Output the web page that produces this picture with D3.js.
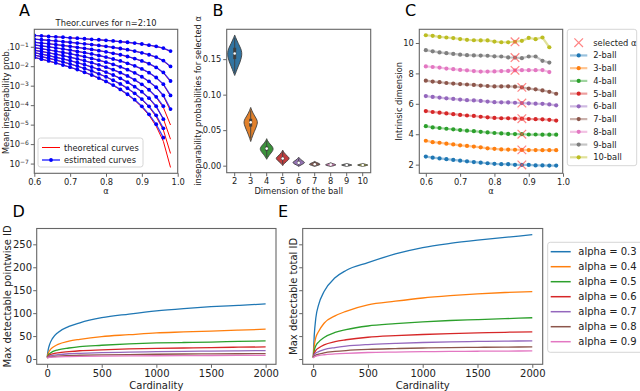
<!DOCTYPE html>
<html>
<head>
<meta charset="utf-8">
<script src="https://cdn.jsdelivr.net/npm/d3@7"></script>
<style>
  body { margin: 0; background: #fff; }
  svg { display: block; font-family: "DejaVu Sans", sans-serif; }
</style>
</head>
<body>
<svg id="fig" width="640" height="391"></svg>
<script>
// ---------- data ----------
// panel A: log10 of mean inseparability probability, alpha = 0.60 .. 0.98 step 0.02
const alphaGrid = [0.60,0.62,0.64,0.66,0.68,0.70,0.72,0.74,0.76,0.78,0.80,0.82,0.84,0.86,0.88,0.90,0.92,0.94,0.96,0.98];
const ballDims = [2,3,4,5,6,7,8,9,10];

const theo2  = [-0.42,-0.45,-0.47,-0.49,-0.52,-0.54,-0.57,-0.59,-0.62,-0.65,-0.67,-0.71,-0.74,-0.78,-0.82,-0.86,-0.92,-0.99,-1.08,-1.24];
const theo3  = [-0.61,-0.64,-0.67,-0.71,-0.74,-0.78,-0.81,-0.85,-0.89,-0.94,-0.98,-1.04,-1.09,-1.16,-1.23,-1.31,-1.42,-1.54,-1.73,-2.03];
const theo4  = [-0.77,-0.81,-0.85,-0.89,-0.94,-0.98,-1.03,-1.09,-1.14,-1.20,-1.27,-1.34,-1.42,-1.51,-1.61,-1.74,-1.88,-2.07,-2.34,-2.79];
const theo5  = [-0.91,-0.96,-1.01,-1.06,-1.12,-1.18,-1.24,-1.31,-1.38,-1.45,-1.54,-1.63,-1.74,-1.85,-1.99,-2.15,-2.34,-2.59,-2.94,-3.54];
const theo6  = [-1.05,-1.11,-1.17,-1.23,-1.29,-1.36,-1.44,-1.52,-1.60,-1.70,-1.80,-1.91,-2.04,-2.18,-2.35,-2.55,-2.79,-3.10,-3.53,-4.29];
const theo7  = [-1.18,-1.25,-1.31,-1.39,-1.46,-1.54,-1.63,-1.72,-1.83,-1.94,-2.06,-2.19,-2.34,-2.51,-2.71,-2.94,-3.23,-3.60,-4.12,-5.02];
const theo8  = [-1.31,-1.38,-1.46,-1.54,-1.63,-1.72,-1.82,-1.93,-2.04,-2.17,-2.31,-2.46,-2.63,-2.83,-3.06,-3.33,-3.66,-4.09,-4.70,-5.75];
const theo9  = [-1.43,-1.51,-1.60,-1.69,-1.79,-1.89,-2.00,-2.12,-2.25,-2.40,-2.55,-2.73,-2.92,-3.15,-3.41,-3.72,-4.09,-4.59,-5.28,-6.48];
const theo10 = [-1.55,-1.64,-1.74,-1.84,-1.94,-2.06,-2.18,-2.32,-2.46,-2.62,-2.80,-2.99,-3.21,-3.46,-3.75,-4.10,-4.52,-5.08,-5.86,-7.20];

const est2  = [-0.42,-0.44,-0.47,-0.49,-0.51,-0.54,-0.56,-0.59,-0.62,-0.64,-0.67,-0.70,-0.74,-0.77,-0.81,-0.86,-0.92,-0.98,-1.07,-1.22];
const est3  = [-0.61,-0.64,-0.67,-0.70,-0.74,-0.77,-0.81,-0.85,-0.89,-0.93,-0.98,-1.03,-1.09,-1.15,-1.22,-1.31,-1.41,-1.53,-1.71,-2.01];
const est4  = [-0.77,-0.81,-0.84,-0.89,-0.93,-0.98,-1.03,-1.08,-1.14,-1.20,-1.26,-1.34,-1.41,-1.50,-1.61,-1.73,-1.87,-2.06,-2.32,-2.76];
const est5  = [-0.91,-0.96,-1.00,-1.06,-1.11,-1.17,-1.24,-1.30,-1.37,-1.45,-1.53,-1.63,-1.73,-1.85,-1.98,-2.14,-2.33,-2.58,-2.92,-3.50];
const est6  = [-1.05,-1.10,-1.16,-1.22,-1.29,-1.36,-1.43,-1.51,-1.60,-1.69,-1.79,-1.91,-2.03,-2.18,-2.34,-2.54,-2.78,-3.08,-3.50,-4.20];
const est7  = [-1.18,-1.24,-1.31,-1.38,-1.46,-1.54,-1.62,-1.72,-1.82,-1.93,-2.05,-2.18,-2.33,-2.50,-2.70,-2.93,-3.21,-3.57,-4.05];
const est8  = [-1.30,-1.38,-1.45,-1.54,-1.62,-1.71,-1.81,-1.92,-2.04,-2.16,-2.30,-2.45,-2.62,-2.82,-3.05,-3.31,-3.64,-4.05,-4.72];
const est9  = [-1.43,-1.51,-1.59,-1.68,-1.78,-1.88,-1.99,-2.11,-2.24,-2.39,-2.54,-2.72,-2.91,-3.13,-3.39,-3.69,-4.06,-4.52,-5.19];
const est10 = [-1.55,-1.64,-1.73,-1.83,-1.94,-2.05,-2.17,-2.31,-2.45,-2.61,-2.78,-2.97,-3.19,-3.44,-3.72,-4.06,-4.47,-4.98,-5.67];

const theoCurves = [theo2, theo3, theo4, theo5, theo6, theo7, theo8, theo9, theo10];
const estCurves = [est2, est3, est4, est5, est6, est7, est8, est9, est10];
const logTicksA = [-1,-2,-3,-4,-5,-6,-7];

// panel B: violins of inseparability probability at selected alpha
// outline = [value, relative half width]
const violinOutline = [
  [[0.127,0],[0.130,0.12],[0.135,0.3],[0.140,0.5],[0.146,0.75],[0.152,0.93],[0.157,1.0],[0.162,0.95],[0.167,0.75],[0.172,0.5],[0.177,0.28],[0.181,0.1],[0.184,0]],
  [[0.034,0],[0.038,0.12],[0.043,0.3],[0.048,0.5],[0.053,0.72],[0.058,0.9],[0.062,0.95],[0.066,0.8],[0.070,0.55],[0.074,0.32],[0.078,0.14],[0.082,0]],
  [[0.009,0],[0.012,0.15],[0.016,0.45],[0.020,0.78],[0.023,0.92],[0.026,0.85],[0.029,0.6],[0.032,0.32],[0.035,0.12],[0.038,0]],
  [[0.000,0],[0.003,0.2],[0.006,0.55],[0.009,0.88],[0.011,0.92],[0.013,0.7],[0.016,0.38],[0.019,0.14],[0.022,0]],
  [[-0.001,0],[0.001,0.3],[0.003,0.75],[0.005,0.85],[0.007,0.5],[0.009,0.22],[0.012,0]],
  [[-0.001,0],[0.0005,0.45],[0.0015,0.8],[0.003,0.65],[0.0045,0.25],[0.006,0]],
  [[-0.001,0],[0.0003,0.6],[0.0013,0.8],[0.0025,0.4],[0.004,0]],
  [[-0.001,0],[0.0003,0.6],[0.001,0.8],[0.002,0.35],[0.003,0]],
  [[-0.001,0],[0.0003,0.6],[0.001,0.8],[0.002,0.35],[0.003,0]]
];
// [whisker low, q1, median, q3, whisker high]
const violinStats = [
  [0.131,0.150,0.158,0.166,0.180],
  [0.038,0.055,0.061,0.066,0.078],
  [0.012,0.021,0.024,0.027,0.035],
  [0.002,0.008,0.010,0.012,0.020],
  [0.000,0.003,0.004,0.006,0.010],
  [0.000,0.001,0.002,0.003,0.005],
  [0.000,0.001,0.0015,0.002,0.004],
  [0.000,0.0005,0.001,0.0015,0.003],
  [0.000,0.0005,0.001,0.0015,0.003]
];
const violinColors = ['#3274a1','#e1812c','#3a923a','#c03d3e','#9372b2','#845b53','#d684bd','#7f7f7f','#a9aa35'];
const ticksB = [0, 0.05, 0.10, 0.15];

// panel C: intrinsic dimension estimate vs alpha
const id2  = [2.53,2.46,2.41,2.36,2.31,2.26,2.22,2.17,2.13,2.09,2.05,2.03,2.03,1.99,1.98,1.98,1.95,1.95,1.94,1.94];
const id3  = [3.57,3.48,3.44,3.38,3.33,3.27,3.23,3.19,3.14,3.07,3.04,3.00,2.99,2.98,2.97,2.96,2.96,2.95,2.95,2.95];
const id4  = [4.53,4.45,4.41,4.36,4.32,4.27,4.23,4.20,4.16,4.12,4.08,4.05,4.02,4.01,4.00,3.98,3.98,3.97,3.97,3.97];
const id5  = [5.52,5.46,5.42,5.37,5.32,5.27,5.23,5.20,5.15,5.11,5.07,5.05,5.05,5.03,5.02,5.00,4.99,4.98,4.95,4.90];
const id6  = [6.51,6.45,6.41,6.36,6.32,6.28,6.24,6.22,6.19,6.15,6.11,6.10,6.09,6.07,6.05,6.03,6.01,6.00,5.96,5.90];
const id7  = [7.52,7.46,7.42,7.37,7.33,7.30,7.27,7.24,7.20,7.17,7.14,7.14,7.15,7.13,7.08,7.00,6.95,6.88,6.79,6.66];
const id8  = [8.46,8.42,8.38,8.32,8.28,8.23,8.20,8.15,8.12,8.12,8.13,8.15,8.16,8.20,8.21,8.21,8.21,8.22,8.09];
const id9  = [9.53,9.45,9.38,9.33,9.28,9.23,9.20,9.18,9.17,9.16,9.12,9.11,9.05,9.04,9.00,9.11,9.11,8.83,8.71];
const id10 = [10.51,10.47,10.40,10.36,10.32,10.26,10.21,10.18,10.17,10.17,10.09,10.05,10.05,10.08,10.14,10.33,10.25,10.36,9.72];
const idCurves = [id2, id3, id4, id5, id6, id7, id8, id9, id10];
const selectedAlpha = [0.88,0.88,0.88,0.88,0.88,0.88,0.86,0.86,0.86];
const idColors = ['#1f77b4','#ff7f0e','#2ca02c','#d62728','#9467bd','#8c564b','#e377c2','#7f7f7f','#bcbd22'];

// panels D and E: max detectable ID vs cardinality
const cardinality = [1,10,25,50,100,200,300,500,750,1000,1250,1500,1750,2000];
const alphaLevels = [0.3,0.4,0.5,0.6,0.7,0.8,0.9];
const pointwise03 = [4,20,33,45,58,71,79,90,98,105,110,114,117,120];
const pointwise04 = [4,12,19,25,32,39,43,49,53,57,59,61,63,65];
const pointwise05 = [3,8,12,16,20,24,27,30,33,35,36,37,38.5,39.5];
const pointwise06 = [3,6,9,11,13.5,16,18,20,22,23,24,25,25.8,26.4];
const pointwise07 = [3,5,6.5,8,9.5,11.5,12.5,14,15,16,16.7,17.3,17.9,18.4];
const pointwise08 = [2,3.5,4.5,5.5,6.5,7.5,8.2,9,9.8,10.4,10.9,11.2,11.5,11.8];
const pointwise09 = [2,3,3.5,4,4.7,5.3,5.8,6.3,6.8,7.1,7.4,7.7,7.9,8.1];
const total03 = [4,50,90,118,147,177,193,210,229,243,252,259,265,271];
const total04 = [4,28,47,60,78,94,104,118,126,133,138,142,145,147];
const total05 = [3,18,29,37,47,58,64,72,77,81,84,86,88,90];
const total06 = [3,12,19,24,31,38,42,47.5,51,53.5,55.5,57,58.3,59.3];
const total07 = [3,9,13,16,20.5,25,28,31.5,34,36,37.3,38.3,39,39.6];
const total08 = [3,6,8.5,10.5,13.5,16.5,18.5,21,22.7,24,24.9,25.6,26,26.4];
const total09 = [2,4.5,6,7.5,9.3,11.2,12.5,14.2,15.2,16,16.6,17,17.3,17.6];
const pointwiseCurves = [pointwise03, pointwise04, pointwise05, pointwise06, pointwise07, pointwise08, pointwise09];
const totalCurves = [total03, total04, total05, total06, total07, total08, total09];
const alphaColors = ['#1f77b4','#ff7f0e','#2ca02c','#d62728','#9467bd','#8c564b','#e377c2'];
const ticksCard = [0,500,1000,1500,2000];
const ticksID = [0,50,100,150,200,250];

// ---------- drawing ----------
const svg = d3.select('#fig');
svg.append('rect').attr('width', 640).attr('height', 391).attr('fill', '#fff');

const small = 8.3;
const big = 10;
const axisColor = '#666';

function styleAxis(g, fs) {
  g.attr('font-family', null).attr('font-size', fs);
  g.select('.domain').remove();
  g.selectAll('.tick line').attr('stroke', axisColor);
  g.selectAll('.tick text').attr('fill', '#222');
}

function frame(x0, y0, x1, y1) {
  svg.append('rect')
    .attr('x', x0).attr('y', y0).attr('width', x1 - x0).attr('height', y1 - y0)
    .attr('fill', 'none').attr('stroke', axisColor).attr('stroke-width', 1.1);
}

function clip(id, x0, y0, x1, y1) {
  svg.append('clipPath').attr('id', id).append('rect')
    .attr('x', x0).attr('y', y0).attr('width', x1 - x0).attr('height', y1 - y0);
  return `url(#${id})`;
}

function label(text, x, y, fs, rotate, anchor = 'middle') {
  svg.append('text')
    .attr('transform', `translate(${x},${y})` + (rotate ? ' rotate(-90)' : ''))
    .attr('text-anchor', anchor)
    .attr('font-size', fs)
    .attr('fill', '#222')
    .text(text);
}

function legendBox(x, y, w, h) {
  svg.append('rect').attr('x', x).attr('y', y).attr('width', w).attr('height', h)
    .attr('rx', 2.5).attr('fill', '#fff').attr('fill-opacity', 0.85)
    .attr('stroke', '#ccc').attr('stroke-width', 0.8);
}

// ---- panel A ----
{
  const L = 34.3, R = 177.7, T = 29.3, B = 173.3;
  const x = d3.scaleLinear().domain([0.6, 1.0]).range([L, R]);
  const y = d3.scaleLog().domain([Math.pow(10, -7.5), Math.pow(10, -0.104)]).range([B, T]);
  const cp = clip('clipA', L, T, R, B);
  const line = d3.line().x(d => x(d[0])).y(d => y(Math.pow(10, d[1])));
  const g = svg.append('g').attr('clip-path', cp);

  theoCurves.forEach(c => {
    g.append('path').datum(c.map((v, i) => [alphaGrid[i], v]))
      .attr('d', line).attr('fill', 'none').attr('stroke', '#ff0000').attr('stroke-width', 1);
  });
  estCurves.forEach(c => {
    const pts = c.map((v, i) => [alphaGrid[i], v]);
    g.append('path').datum(pts)
      .attr('d', line).attr('fill', 'none').attr('stroke', '#1a1aff').attr('stroke-width', 1.3).attr('stroke-opacity', 0.85);
    g.selectAll(null).data(pts).enter().append('circle')
      .attr('cx', d => x(d[0])).attr('cy', d => y(Math.pow(10, d[1])))
      .attr('r', 1.9).attr('fill', '#0000ff');
  });

  const ax = svg.append('g').attr('transform', `translate(0,${B})`)
    .call(d3.axisBottom(x).tickValues([0.6,0.7,0.8,0.9,1.0]).tickFormat(d3.format('.1f')).tickSize(3.5).tickPadding(2));
  styleAxis(ax, small);
  const ay = svg.append('g').attr('transform', `translate(${L},0)`)
    .call(d3.axisLeft(y).tickValues(logTicksA.map(k => Math.pow(10, k))).tickSize(3.5).tickPadding(2));
  styleAxis(ay, small);
  ay.selectAll('.tick text').each(function (d) {
    const t = d3.select(this).text('');
    t.append('tspan').text('10');
    t.append('tspan').attr('dy', '-0.45em').attr('font-size', '0.72em').text('\u2212' + Math.round(-Math.log10(d)));
  });
  frame(L, T, R, B);

  label('Theor.curves for n=2:10', (L + R) / 2, 26, small);
  label('\u03b1', (L + R) / 2, 194, small);
  label('Mean inseparability prob.', 9, (T + B) / 2, small, true);
  svg.append('text').attr('x', 19).attr('y', 15.5).attr('font-size', 16).text('A');

  legendBox(38, 138, 105, 29);
  svg.append('line').attr('x1', 42).attr('x2', 60).attr('y1', 147.5).attr('y2', 147.5).attr('stroke', '#ff0000').attr('stroke-width', 1);
  svg.append('line').attr('x1', 42).attr('x2', 60).attr('y1', 160).attr('y2', 160).attr('stroke', '#1a1aff').attr('stroke-width', 1.3);
  svg.append('circle').attr('cx', 51).attr('cy', 160).attr('r', 1.9).attr('fill', '#0000ff');
  label('theoretical curves', 64, 150.5, small, false, 'start');
  label('estimated curves', 64, 163, small, false, 'start');
}

// ---- panel B ----
{
  const L = 226.7, R = 370.7, T = 29.3, B = 172.7;
  const x = d3.scaleBand().domain(ballDims).range([L, R]);
  const y = d3.scaleLinear().domain([-0.0099, 0.192]).range([B, T]);
  const w = d3.scaleLinear().domain([0, 1]).range([0, 7.2]);

  ballDims.forEach((d, i) => {
    const cx = x(d) + x.bandwidth() / 2;
    const area = d3.area().curve(d3.curveBasis)
      .y(p => y(p[0])).x0(p => cx - w(p[1])).x1(p => cx + w(p[1]));
    svg.append('path').attr('d', area(violinOutline[i]))
      .attr('fill', violinColors[i]).attr('stroke', '#3f3f3f').attr('stroke-width', 0.9);
    const s = violinStats[i];
    svg.append('line').attr('x1', cx).attr('x2', cx).attr('y1', y(s[0])).attr('y2', y(s[4]))
      .attr('stroke', '#3f3f3f').attr('stroke-width', 0.9);
    svg.append('line').attr('x1', cx).attr('x2', cx).attr('y1', y(s[1])).attr('y2', y(s[3]))
      .attr('stroke', '#3f3f3f').attr('stroke-width', 3);
    svg.append('circle').attr('cx', cx).attr('cy', y(s[2])).attr('r', 1.3).attr('fill', '#fff');
  });

  const ax = svg.append('g').attr('transform', `translate(0,${B})`)
    .call(d3.axisBottom(x).tickSize(3.5).tickPadding(2));
  styleAxis(ax, small);
  const ay = svg.append('g').attr('transform', `translate(${L},0)`)
    .call(d3.axisLeft(y).tickValues(ticksB).tickFormat(d3.format('.2f')).tickSize(3.5).tickPadding(2));
  styleAxis(ay, small);
  frame(L, T, R, B);

  label('Dimension of the ball', (L + R) / 2, 193.5, small);
  label('inseparability probabilities for selected \u03b1', 200.5, (T + B) / 2, small, true);
  svg.append('text').attr('x', 212.5).attr('y', 15.5).attr('font-size', 16).text('B');
}

// ---- panel C ----
{
  const L = 419.3, R = 562.7, T = 29.3, B = 173.3;
  const x = d3.scaleLinear().domain([0.581, 0.999]).range([L, R]);
  const y = d3.scaleLinear().domain([1.43, 10.9]).range([B, T]);
  const line = d3.line().x(d => x(d[0])).y(d => y(d[1]));
  const cross = 'M-4.3,-4.3L4.3,4.3M-4.3,4.3L4.3,-4.3';

  idCurves.forEach((c, k) => {
    const pts = c.map((v, i) => [alphaGrid[i], v]);
    svg.append('path').datum(pts).attr('d', line).attr('fill', 'none')
      .attr('stroke', idColors[k]).attr('stroke-opacity', 0.45).attr('stroke-width', 2.2);
    svg.selectAll(null).data(pts).enter().append('circle')
      .attr('cx', d => x(d[0])).attr('cy', d => y(d[1])).attr('r', 2.1).attr('fill', idColors[k]);
  });
  idCurves.forEach((c, k) => {
    const idx = alphaGrid.findIndex(a => Math.abs(a - selectedAlpha[k]) < 1e-9);
    svg.append('path').attr('d', cross)
      .attr('transform', `translate(${x(selectedAlpha[k])},${y(c[idx])})`)
      .attr('stroke', '#ff5050').attr('stroke-opacity', 0.7).attr('stroke-width', 1.2).attr('fill', 'none');
  });

  const ax = svg.append('g').attr('transform', `translate(0,${B})`)
    .call(d3.axisBottom(x).tickValues([0.6,0.7,0.8,0.9,1.0]).tickFormat(d3.format('.1f')).tickSize(3.5).tickPadding(2));
  styleAxis(ax, small);
  const ay = svg.append('g').attr('transform', `translate(${L},0)`)
    .call(d3.axisLeft(y).tickValues([2,4,6,8,10]).tickSize(3.5).tickPadding(2));
  styleAxis(ay, small);
  frame(L, T, R, B);

  label('\u03b1', (L + R) / 2, 194, small);
  label('Intrinsic dimension', 402, (T + B) / 2, small, true);
  svg.append('text').attr('x', 405).attr('y', 15.5).attr('font-size', 16).text('C');

  // legend
  legendBox(567.3, 29.3, 69.4, 136.4);
  const ly = d3.scaleLinear().domain([0, 9]).range([42.7, 157.3]);
  svg.append('path').attr('d', cross).attr('transform', `translate(578.7,${ly(0)})`)
    .attr('stroke', '#ff5050').attr('stroke-opacity', 0.7).attr('stroke-width', 1.2).attr('fill', 'none');
  label('selected \u03b1', 593.3, ly(0) + 3, small, false, 'start');
  ballDims.forEach((d, k) => {
    const yy = ly(k + 1);
    svg.append('line').attr('x1', 570).attr('x2', 587.3).attr('y1', yy).attr('y2', yy)
      .attr('stroke', idColors[k]).attr('stroke-opacity', 0.45).attr('stroke-width', 2.2);
    svg.append('circle').attr('cx', 578.7).attr('cy', yy).attr('r', 2.1).attr('fill', idColors[k]);
    label(`${d}-ball`, 593.3, yy + 3, small, false, 'start');
  });
}

// ---- panels D and E ----
const yDE = d3.scaleLinear().domain([-11.5, 284.5]).range([364.3, 228.5]);
function cardinalityPanel(L, R, curves, showLabels) {
  const T = 228.5, B = 364.3;
  const x = d3.scaleLinear().domain([-95, 2095]).range([L, R]);
  const line = d3.line().curve(d3.curveMonotoneX).x(d => x(d[0])).y(d => yDE(d[1]));
  curves.forEach((c, k) => {
    svg.append('path').datum(c.map((v, i) => [cardinality[i], v]))
      .attr('d', line).attr('fill', 'none').attr('stroke', alphaColors[k]).attr('stroke-width', 1.3);
  });
  const ax = svg.append('g').attr('transform', `translate(0,${B})`)
    .call(d3.axisBottom(x).tickValues(ticksCard).tickFormat(d3.format('d')).tickSize(3.5).tickPadding(2.5));
  styleAxis(ax, big);
  const ay = svg.append('g').attr('transform', `translate(${L},0)`)
    .call(d3.axisLeft(yDE).tickValues(ticksID).tickSize(3.5).tickPadding(1.2)
      .tickFormat(showLabels ? d3.format('d') : () => ''));
  styleAxis(ay, big);
  frame(L, T, R, B);
  label('Cardinality', (L + R) / 2, 389, big);
}

cardinalityPanel(36.7, 276, pointwiseCurves, true);
label('Max detectable pointwise ID', 10.5, 296.4, big, true);
svg.append('text').attr('x', 12.5).attr('y', 217).attr('font-size', 16).text('D');

cardinalityPanel(302.7, 542.7, totalCurves, false);
label('Max detectable total ID', 297, 296.4, big, true);
svg.append('text').attr('x', 278).attr('y', 217).attr('font-size', 16).text('E');

// legend E
legendBox(547.7, 242.3, 96, 110);
alphaLevels.forEach((a, k) => {
  const yy = 251.7 + 15 * k;
  svg.append('line').attr('x1', 550.7).attr('x2', 570.7).attr('y1', yy).attr('y2', yy)
    .attr('stroke', alphaColors[k]).attr('stroke-width', 1.5);
  label(`alpha = ${a}`, 578.3, yy + 3.6, big, false, 'start');
});
</script>
</body>
</html>
